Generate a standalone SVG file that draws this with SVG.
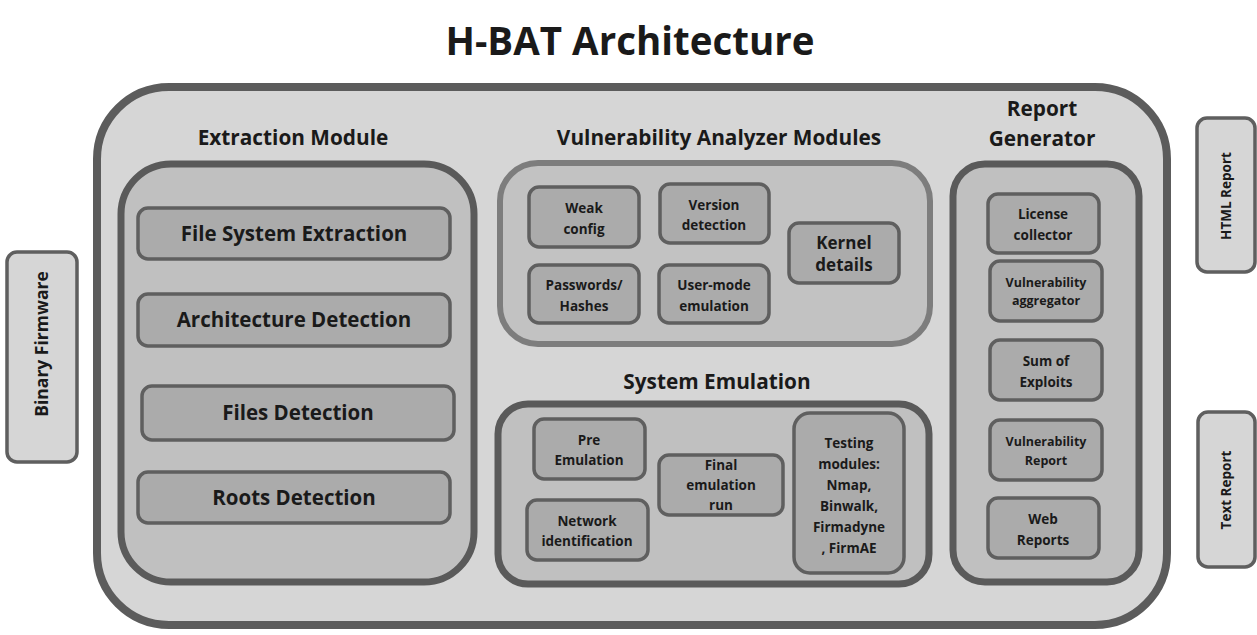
<svg xmlns="http://www.w3.org/2000/svg" width="1257" height="635" viewBox="0 0 1257 635">
  <style>
    text { font-family: "Open Sans", Lato, "Liberation Sans", sans-serif; font-weight: bold; fill: #1a1a1a; text-anchor: middle; }
    .title { font-size: 38.5px; }
    .label { font-size: 20.8px; }
    .big { font-size: 20.5px; }
    .mid { font-size: 17px; }
    .sm { font-size: 13.5px; }
    .xs { font-size: 12.5px; }
    .side { font-size: 17.5px; }
    .side-sm { font-size: 13.5px; }
    .outer { fill: #d6d6d6; stroke: #5c5c5c; stroke-width: 8; }
    .module { fill: #c0c0c0; stroke: #5a5a5a; stroke-width: 7; }
    .module-light { fill: #c2c2c2; stroke: #7d7d7d; stroke-width: 6; }
    .item { fill: #ababab; stroke: #5f5f5f; stroke-width: 3.5; }
    .io { fill: #d6d6d6; stroke: #5f5f5f; stroke-width: 3.5; }
  </style>

  <rect width="1257" height="635" fill="#ffffff"/>

  <text class="title" x="630" y="55">H-BAT Architecture</text>

  <g id="hbat-system">
    <rect class="outer" x="97" y="87" width="1070" height="538" rx="72"/>
  </g>

  <!-- Input and outputs -->
  <g id="binary-firmware">
    <rect class="io" x="7" y="252" width="70" height="210" rx="10"/>
    <text class="side" transform="translate(48 344) rotate(-90)">Binary Firmware</text>
  </g>
  <g id="html-report">
    <rect class="io" x="1197" y="118" width="58" height="154" rx="10"/>
    <text class="side-sm" transform="translate(1231 196) rotate(-90)">HTML Report</text>
  </g>
  <g id="text-report">
    <rect class="io" x="1198" y="412" width="57" height="155" rx="10"/>
    <text class="side-sm" transform="translate(1231 490) rotate(-90)">Text Report</text>
  </g>

  <!-- Extraction module -->
  <g id="extraction-module">
    <text class="label" x="293" y="145">Extraction Module</text>
    <rect class="module" x="121" y="164" width="353" height="418" rx="50"/>
  </g>
  <g id="file-system-extraction">
    <rect class="item" x="138" y="208" width="312" height="51" rx="10"/>
    <text class="big" x="294" y="241">File System Extraction</text>
  </g>
  <g id="architecture-detection">
    <rect class="item" x="138" y="294" width="312" height="52" rx="10"/>
    <text class="big" x="294" y="327">Architecture Detection</text>
  </g>
  <g id="files-detection">
    <rect class="item" x="142" y="386" width="312" height="54" rx="10"/>
    <text class="big" x="298" y="420">Files Detection</text>
  </g>
  <g id="roots-detection">
    <rect class="item" x="138" y="472" width="312" height="51" rx="10"/>
    <text class="big" x="294" y="505">Roots Detection</text>
  </g>

  <!-- Vulnerability analyzer modules -->
  <g id="vulnerability-analyzer">
    <text class="label" x="719" y="145">Vulnerability Analyzer Modules</text>
    <rect class="module-light" x="500" y="163" width="430" height="181" rx="38"/>
  </g>
  <g id="weak-config">
    <rect class="item" x="529" y="187" width="110" height="60" rx="10"/>
    <text class="sm" x="584" y="213">Weak</text>
    <text class="sm" x="584" y="234">config</text>
  </g>
  <g id="version-detection">
    <rect class="item" x="660" y="184" width="109" height="59" rx="10"/>
    <text class="sm" x="714" y="210">Version</text>
    <text class="sm" x="714" y="230">detection</text>
  </g>
  <g id="kernel-details">
    <rect class="item" x="789" y="223" width="110" height="60" rx="10"/>
    <text class="mid" x="844" y="249">Kernel</text>
    <text class="mid" x="844" y="271">details</text>
  </g>
  <g id="passwords-hashes">
    <rect class="item" x="529" y="265" width="110" height="58" rx="10"/>
    <text class="sm" x="584" y="290">Passwords/</text>
    <text class="sm" x="584" y="311">Hashes</text>
  </g>
  <g id="user-mode-emulation">
    <rect class="item" x="659" y="265" width="110" height="58" rx="10"/>
    <text class="sm" x="714" y="290">User-mode</text>
    <text class="sm" x="714" y="311">emulation</text>
  </g>

  <!-- System emulation -->
  <g id="system-emulation">
    <text class="label" x="717" y="389">System Emulation</text>
    <rect class="module" x="498" y="404" width="431" height="180" rx="30"/>
  </g>
  <g id="pre-emulation">
    <rect class="item" x="534" y="419" width="111" height="60" rx="10"/>
    <text class="sm" x="589" y="445">Pre</text>
    <text class="sm" x="589" y="465">Emulation</text>
  </g>
  <g id="network-identification">
    <rect class="item" x="527" y="500" width="121" height="60" rx="10"/>
    <text class="sm" x="587" y="526">Network</text>
    <text class="sm" x="587" y="546">identification</text>
  </g>
  <g id="final-emulation-run">
    <rect class="item" x="659" y="455" width="124" height="60" rx="10"/>
    <text class="sm" x="721" y="470">Final</text>
    <text class="sm" x="721" y="490">emulation</text>
    <text class="sm" x="721" y="510">run</text>
  </g>
  <g id="testing-modules">
    <rect class="item" x="794" y="413" width="110" height="160" rx="16"/>
    <text class="sm" x="849" y="448">Testing</text>
    <text class="sm" x="849" y="469">modules:</text>
    <text class="sm" x="849" y="490">Nmap,</text>
    <text class="sm" x="849" y="511">Binwalk,</text>
    <text class="sm" x="849" y="532">Firmadyne</text>
    <text class="sm" x="849" y="553">, FirmAE</text>
  </g>

  <!-- Report generator -->
  <g id="report-generator">
    <text class="label" x="1042" y="116">Report</text>
    <text class="label" x="1042" y="146">Generator</text>
    <rect class="module" x="953" y="164" width="186" height="418" rx="32"/>
  </g>
  <g id="license-collector">
    <rect class="item" x="988" y="194" width="111" height="59" rx="10"/>
    <text class="sm" x="1043" y="219">License</text>
    <text class="sm" x="1043" y="240">collector</text>
  </g>
  <g id="vulnerability-aggregator">
    <rect class="item" x="990" y="261" width="112" height="60" rx="10"/>
    <text class="xs" x="1046" y="287">Vulnerability</text>
    <text class="xs" x="1046" y="305">aggregator</text>
  </g>
  <g id="sum-of-exploits">
    <rect class="item" x="990" y="340" width="112" height="60" rx="10"/>
    <text class="sm" x="1046" y="366">Sum of</text>
    <text class="sm" x="1046" y="387">Exploits</text>
  </g>
  <g id="vulnerability-report">
    <rect class="item" x="990" y="420" width="112" height="60" rx="10"/>
    <text class="xs" x="1046" y="446">Vulnerability</text>
    <text class="xs" x="1046" y="465">Report</text>
  </g>
  <g id="web-reports">
    <rect class="item" x="988" y="498" width="111" height="60" rx="10"/>
    <text class="sm" x="1043" y="524">Web</text>
    <text class="sm" x="1043" y="545">Reports</text>
  </g>

  <!-- No explicit connectors between components -->
  <g id="connectors"/>
</svg>
